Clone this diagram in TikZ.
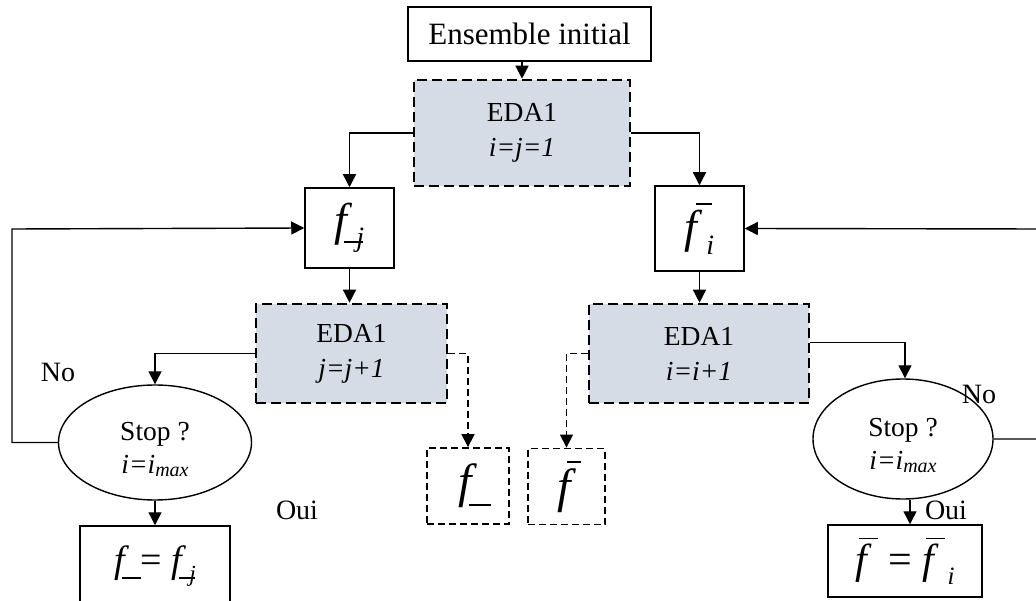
\documentclass[tikz,border=0pt]{standalone}
\usepackage{fontspec}
\setmainfont{Liberation Serif}
\usetikzlibrary{arrows.meta,shapes.geometric}
\definecolor{edafill}{HTML}{D6DCE5}
\newcommand\fbr[2]{\rlap{\kern#1\rule[0.82em]{#2}{0.04em}}\textit{f}}
\newcommand\fun[2]{\rlap{\kern#1\rule[-0.17em]{#2}{0.04em}}\textit{f}}
\newcommand\subsc[2]{\raisebox{-0.25em}{\fontsize{#1}{#1}\selectfont\textit{#2}}}
\newcommand\imax{\textit{i=i}\raisebox{-0.12em}{\fontsize{20}{20}\selectfont\textit{max}}}
\begin{document}
\begin{tikzpicture}[x=1pt,y=-1pt,
  solidbox/.style={draw,line width=1.5pt,inner sep=0pt},
  edabox/.style={draw,line width=2.6pt,dash pattern=on 10pt off 5pt,fill=edafill,inner sep=0pt,align=center,font=\fontsize{27.5}{35}\selectfont},
  dbox/.style={draw,line width=1.8pt,dash pattern=on 7pt off 4pt,inner sep=0pt},
  stopell/.style={draw,ellipse,line width=1.4pt,inner sep=0pt,align=center,font=\fontsize{27.5}{33}\selectfont},
  arr/.style={line width=1.4pt,-{Triangle[width=13pt,length=13pt]}},
  darr/.style={line width=1.4pt,dash pattern=on 7pt off 4pt,-{Triangle[width=13pt,length=13pt]}},
  lbl/.style={inner sep=0pt,font=\fontsize{28}{28}\selectfont}]
\useasboundingbox (0,0) rectangle (1036,601);
\clip (0,0) rectangle (1036,601);
% nodes
\node[solidbox,minimum width=243pt,minimum height=54pt,font=\fontsize{31}{31}\selectfont] (ens) at (529.5,34) {Ensemble initial};
\node[edabox,minimum width=216pt,minimum height=106pt] (eda0) at (522,133) {EDA1\\\textit{i=j=1}};
\node[solidbox,minimum width=89pt,minimum height=80pt,font=\fontsize{46}{46}\selectfont] (fj) at (349.5,228) {\fun{0.2em}{0.42em}\kern0.08em\subsc{28}{j}};
\node[solidbox,minimum width=89pt,minimum height=85pt,font=\fontsize{46}{46}\selectfont] (fi) at (699.5,228.5) {\fbr{0.25em}{0.35em}\kern0.08em\subsc{28}{i}};
\node[edabox,minimum width=191pt,minimum height=99pt] (edaj) at (351.5,353.5) {EDA1\\\textit{j=j+1}};
\node[edabox,minimum width=220pt,minimum height=99pt] (edai) at (699,353.5) {EDA1\\\textit{i=i+1}};
\node[stopell,minimum width=193pt,minimum height=115pt] (stopL) at (155,442.5) {\rule{0pt}{1.15em}Stop ?\\\imax};
\node[stopell,minimum width=180pt,minimum height=120pt] (stopR) at (903,439) {\rule{0pt}{1.15em}Stop ?\\\imax};
\node[dbox,minimum width=82pt,minimum height=76pt,font=\fontsize{48}{48}\selectfont] (df) at (468,486) {\fun{0.22em}{0.45em}};
\node[dbox,minimum width=77pt,minimum height=76pt,font=\fontsize{48}{48}\selectfont] (dfb) at (566.5,486.5) {\fbr{0.2em}{0.3em}};
\node[solidbox,minimum width=150pt,minimum height=80pt,font=\fontsize{38}{38}\selectfont] (resL) at (155,566) {\fun{0.2em}{0.5em}\kern0.3em = \fun{0.2em}{0.42em}\kern0.08em\subsc{23}{j}};
\node[solidbox,minimum width=154pt,minimum height=72pt,font=\fontsize{42}{42}\selectfont] (resR) at (905,561) {\fbr{0.08em}{0.45em}\kern0.4em = \fbr{0.08em}{0.45em}\kern0.2em\subsc{25}{i}};
% labels
\node[lbl] (noL) at (58,372) {No};
\node[lbl] (ouiL) at (297,510) {Oui};
\node[lbl] (noR) at (979,394) {No};
\node[lbl] (ouiR) at (946,510) {Oui};
% coordinates for loops
\coordinate (lc) at (12,229);
\coordinate (rc) at (1045,229);
% connectors
\draw[arr] (eda0.north |- ens.south) -- (eda0.north);
\draw[arr] (eda0.west) -| (fj.north);
\draw[arr] (eda0.east) -| (fi.north);
\draw[arr] (fj.south) -- (fj.south |- edaj.north);
\draw[arr] (fi.south) -- (fi.south |- edai.north);
\draw[arr] (edaj.west) -| (stopL.north);
\draw[arr] (stopL.west) -| (lc) -- (fj.west);
\draw[arr] (stopL.south) -- (resL.north);
\draw[darr] (edaj.east) -| (df.north);
\draw[darr] (edai.west) -| (dfb.north);
\draw[arr] ([yshift=11pt]edai.east) -| ([xshift=2pt]stopR.north);
\draw[arr] (stopR.east) -| (rc) -- (fi.east);
\draw[arr] ([xshift=7pt]stopR.south) -- ([xshift=7pt]stopR.south |- resR.north);
\end{tikzpicture}
\end{document}
